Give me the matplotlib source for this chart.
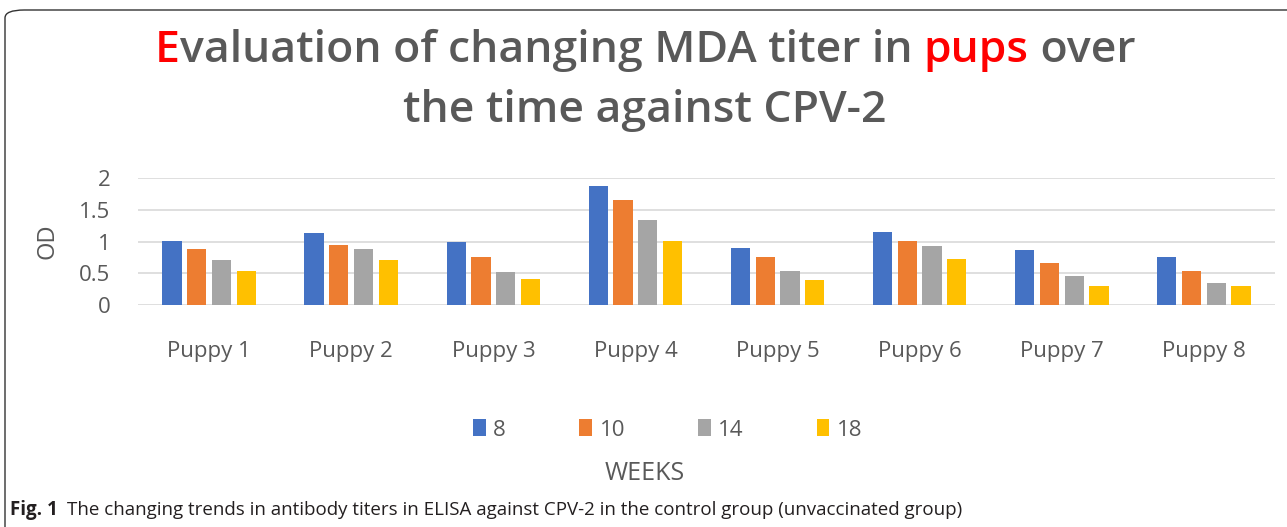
import matplotlib
matplotlib.use("Agg")
import matplotlib.pyplot as plt
import numpy as np
from matplotlib.patches import FancyBboxPatch

categories = ["Puppy 1", "Puppy 2", "Puppy 3", "Puppy 4", "Puppy 5", "Puppy 6", "Puppy 7", "Puppy 8"]
series_names = ["8", "10", "14", "18"]
w8 = [1.01, 1.13, 0.99, 1.88, 0.90, 1.15, 0.86, 0.75]
w10 = [0.88, 0.95, 0.75, 1.65, 0.75, 1.01, 0.66, 0.54]
w14 = [0.71, 0.88, 0.52, 1.34, 0.54, 0.93, 0.45, 0.34]
w18 = [0.54, 0.71, 0.41, 1.01, 0.39, 0.73, 0.30, 0.30]
yticks = [0, 0.5, 1, 1.5, 2]
ytick_labels = ["0", "0.5", "1", "1.5", "2"]

colors = ["#4472C4", "#ED7D31", "#A5A5A5", "#FFC000"]
FONT = "Open Sans"
W, H = 1287, 527
fig = plt.figure(figsize=(W / 100, H / 100), dpi=100)
fig.patch.set_facecolor("white")

# border
border = FancyBboxPatch((5 / W, -0.05), 1.2, 1.0 - 10 / H + 0.05, boxstyle="round,pad=0,rounding_size=0.015",
                        transform=fig.transFigure, facecolor="none", edgecolor="#333333", linewidth=1.0)
fig.patches.append(border)

ax = fig.add_axes([138 / W, 1 - 305 / H, (1275 - 138) / W, (305 - 178) / H])
x = np.arange(len(categories))
bw = 0.135
step = 0.174
for i, (vals, c) in enumerate(zip([w8, w10, w14, w18], colors)):
    ax.bar(x + (i - 1.5) * step, vals, width=bw, color=c, label=series_names[i], zorder=3)

ax.set_xlim(-0.5, len(categories) - 0.5)
ax.set_ylim(0, 2)
ax.set_yticks(yticks)
ax.set_yticklabels(ytick_labels, fontsize=16, color="#595959", family=FONT)
ax.set_xticks(x)
ax.set_xticklabels(categories, fontsize=16, color="#595959", family=FONT)
ax.tick_params(axis="both", length=0)
ax.tick_params(axis="x", pad=26)
ax.tick_params(axis="y", pad=20)
ax.grid(axis="y", color="#D9D9D9", linewidth=1.2, zorder=0)
for s in ax.spines.values():
    s.set_visible(False)
ax.set_ylabel("OD", fontsize=17, color="#595959", family=FONT, labelpad=14)

leg = fig.legend(loc="center", bbox_to_anchor=(668 / W, 1 - 430 / H),
                 ncol=4, frameon=False, handlelength=0.55, handleheight=0.8,
                 columnspacing=3.3, handletextpad=0.35, prop={"family": FONT, "size": 16})
for t in leg.get_texts():
    t.set_color("#595959")

fig.text(645 / W, 1 - 473 / H, "WEEKS", ha="center", va="center", fontsize=18, color="#595959", family=FONT)

# Title with colored parts
renderer = fig.canvas.get_renderer()
def colored_line(parts, y, size):
    tmp = []
    total = 0
    for txt, col in parts:
        t = fig.text(0, y, txt, fontsize=size, color=col, family=FONT, va="center", ha="left", weight="semibold")
        bb = t.get_window_extent(renderer)
        tmp.append((t, bb.width))
        total += bb.width
    xpos = 645 - total / 2
    for t, wdt in tmp:
        t.set_x(xpos / W)
        xpos += wdt

grey = "#595959"
red = "#FF0000"
colored_line([("E", red), ("valuation of changing MDA titer in ", grey), ("pups", red), (" over", grey)], 1 - 50 / H, 32)
colored_line([("the time against CPV-2", grey)], 1 - 110 / H, 32)

# caption
t1 = fig.text(10 / W, 1 - 510 / H, "Fig. 1", fontsize=13.5, weight="bold", family=FONT, color="#231F20", va="center")
bb = t1.get_window_extent(renderer)
fig.text((10 + bb.width + 9) / W, 1 - 510 / H,
         "The changing trends in antibody titers in ELISA against CPV-2 in the control group (unvaccinated group)",
         fontsize=13.5, family=FONT, color="#231F20", va="center")

fig.savefig("out.png", dpi=100)
